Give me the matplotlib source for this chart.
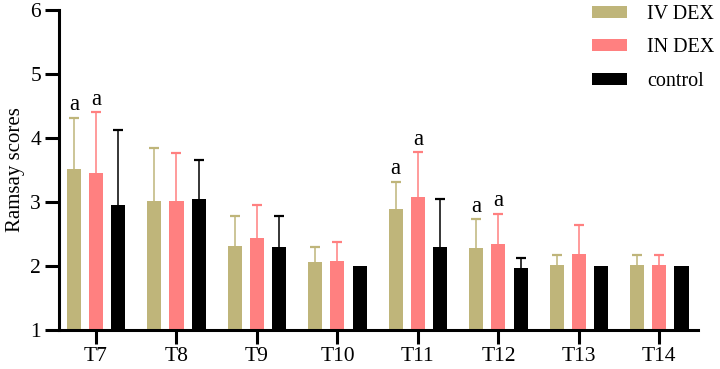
import matplotlib
matplotlib.use('Agg')
import matplotlib.pyplot as plt
import numpy as np

plt.rcParams['font.family'] = ['Liberation Serif', 'DejaVu Serif']

times = ['T7', 'T8', 'T9', 'T10', 'T11', 'T12', 'T13', 'T14']
groups = ['IV DEX', 'IN DEX', 'control']

# means and (upper) SD
iv_mean = [3.51, 3.02, 2.31, 2.06, 2.89, 2.28, 2.02, 2.02]
iv_sd = [0.81, 0.83, 0.47, 0.24, 0.43, 0.45, 0.15, 0.15]
in_mean = [3.46, 3.02, 2.44, 2.08, 3.08, 2.34, 2.18, 2.02]
in_sd = [0.94, 0.74, 0.51, 0.29, 0.70, 0.48, 0.46, 0.15]
ctrl_mean = [2.95, 3.04, 2.30, 2.00, 2.30, 1.97, 2.00, 2.00]
ctrl_sd = [1.17, 0.61, 0.48, 0.0, 0.74, 0.16, 0.0, 0.0]

# groups marked "a" (vs control) at these time points
iv_sig = ['T7', 'T11', 'T12']
in_sig = ['T7', 'T11', 'T12']

colors = ['#BFB57A', '#FF8080', '#000000']

fig = plt.figure(figsize=(7.2, 3.69), dpi=100)
ax = fig.add_axes([59 / 720, 39 / 369, 639 / 720, 320 / 369])

x = np.arange(len(times))
width = 0.175
offset = 0.275

series = [(iv_mean, iv_sd, iv_sig), (in_mean, in_sd, in_sig), (ctrl_mean, ctrl_sd, [])]
for i, (mean, sd, sig) in enumerate(series):
    pos = x + (i - 1) * offset
    mean = np.array(mean)
    sd = np.array(sd)
    ax.bar(pos, mean, width, color=colors[i], label=groups[i], zorder=2)
    # upper error only: stem + cap on top
    ax.errorbar(pos, mean, yerr=[np.zeros(len(sd)), sd], fmt='none',
                ecolor=colors[i], elinewidth=1.1, capsize=0, zorder=3)
    has = sd > 0
    ax.plot(pos[has], (mean + sd)[has], ls='none', marker='_', markersize=7,
            markeredgewidth=1.6, color=colors[i], zorder=3)
    for t in sig:
        k = times.index(t)
        ax.text(pos[k], mean[k] + sd[k] + 0.04, 'a', ha='center', va='bottom',
                fontsize=16.5)

ax.set_xlim(-0.46, 7.48)
ax.set_ylim(1, 6)
ax.set_yticks([1, 2, 3, 4, 5, 6])
ax.set_xticks(x)
ax.set_xticklabels(times)
ax.set_ylabel('Ramsay scores', fontsize=15, labelpad=4)

for s in ['top', 'right']:
    ax.spines[s].set_visible(False)
for s in ['left', 'bottom']:
    ax.spines[s].set_linewidth(2.2)
ax.tick_params(axis='both', width=2.2, length=10, labelsize=15.5)
ax.tick_params(axis='y', pad=3)
ax.tick_params(axis='x', pad=2)

fig.legend(loc='upper left', bbox_to_anchor=(592 / 720, 1 - 5 / 369),
           frameon=False, fontsize=14.5, handlelength=1.75, handleheight=0.55,
           handletextpad=1.0, labelspacing=0.72, borderpad=0, borderaxespad=0)

fig.savefig('out.png', dpi=100)
